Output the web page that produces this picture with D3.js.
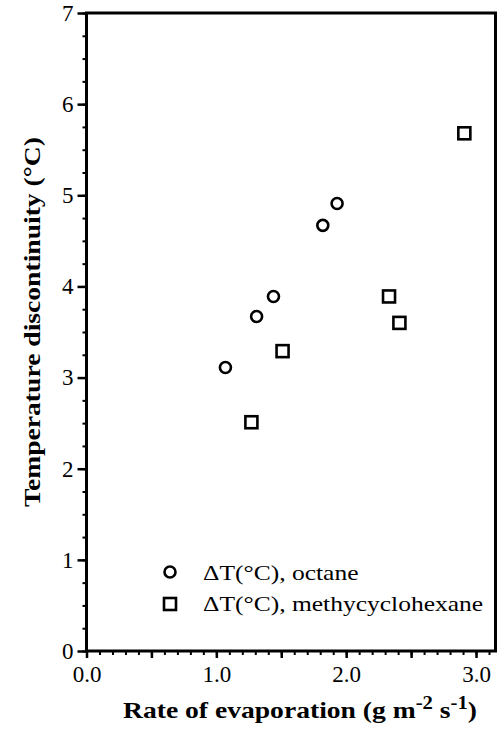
<!DOCTYPE html>
<html>
<head>
<meta charset="utf-8">
<script src="https://cdn.jsdelivr.net/npm/d3@7"></script>
<style>
  body { margin: 0; background: #fff; }
  svg { display: block; }
  svg text { font-family: "Liberation Serif", "Times New Roman", serif; fill: #000; }
</style>
</head>
<body>
<svg id="chart" width="503" height="734"></svg>
<script>
// data
const octaneRate = [1.07, 1.31, 1.44, 1.82, 1.93];
const octaneDT = [3.11, 3.67, 3.89, 4.67, 4.91];
const mchRate = [1.27, 1.51, 2.33, 2.41, 2.91];
const mchDT = [2.51, 3.29, 3.89, 3.60, 5.68];
const xTicks = [0, 1, 2, 3];
const yTicks = [0, 1, 2, 3, 4, 5, 6, 7];
const legendLabels = ['\u0394T(\u00B0C), octane', '\u0394T(\u00B0C), methycyclohexane'];

const svg = d3.select('#chart');

const x = d3.scaleLinear().domain([0, 3.15]).range([86.5, 495.5]);
const y = d3.scaleLinear().domain([0, 7]).range([651, 13]);

// minor / mid ticks first
svg.append('g')
  .attr('transform', `translate(0,${y(0)})`)
  .call(d3.axisBottom(x).tickValues(d3.range(0, 3.11, 0.1)).tickSize(4).tickFormat(''))
  .call(g => g.select('.domain').remove())
  .selectAll('line').attr('stroke-width', 2);

svg.append('g')
  .attr('transform', `translate(0,${y(0)})`)
  .call(d3.axisBottom(x).tickValues([0.5, 1.5, 2.5]).tickSize(7).tickFormat(''))
  .call(g => g.select('.domain').remove())
  .selectAll('line').attr('stroke-width', 2.5);

const xAxis = svg.append('g')
  .attr('transform', `translate(0,${y(0)})`)
  .call(d3.axisBottom(x).tickValues(xTicks).tickSize(7).tickPadding(8).tickFormat(d3.format('.1f')));
xAxis.attr('font-family', null).attr('font-size', 23);
xAxis.select('.domain').remove();
xAxis.selectAll('line').attr('stroke-width', 2.5);

svg.append('g')
  .attr('transform', `translate(${x(0)},0)`)
  .call(d3.axisLeft(y).tickValues(d3.range(0, 7.01, 0.25)).tickSize(4).tickFormat(''))
  .call(g => g.select('.domain').remove())
  .selectAll('line').attr('stroke-width', 2);

const yAxis = svg.append('g')
  .attr('transform', `translate(${x(0)},0)`)
  .call(d3.axisLeft(y).tickValues(yTicks).tickSize(9).tickPadding(4).tickFormat(d3.format('d')));
yAxis.attr('font-family', null).attr('font-size', 23);
yAxis.select('.domain').remove();
yAxis.selectAll('line').attr('stroke-width', 2.5);

// frame
svg.append('rect')
  .attr('x', x(0)).attr('y', y(7))
  .attr('width', x(3.15) - x(0)).attr('height', y(0) - y(7))
  .attr('fill', 'none').attr('stroke', '#000').attr('stroke-width', 3);

// points
const octane = octaneRate.map((r, i) => ({ r, t: octaneDT[i] }));
const mch = mchRate.map((r, i) => ({ r, t: mchDT[i] }));

svg.append('g').selectAll('circle').data(octane).join('circle')
  .attr('cx', d => x(d.r)).attr('cy', d => y(d.t)).attr('r', 5.5)
  .attr('fill', 'none').attr('stroke', '#000').attr('stroke-width', 2.6);

const sq = 12;
svg.append('g').selectAll('rect').data(mch).join('rect')
  .attr('x', d => x(d.r) - sq / 2).attr('y', d => y(d.t) - sq / 2)
  .attr('width', sq).attr('height', sq)
  .attr('fill', 'none').attr('stroke', '#000').attr('stroke-width', 2.6);

// legend
const legend = svg.append('g');
legend.append('circle').attr('cx', 170).attr('cy', 572).attr('r', 5.5)
  .attr('fill', 'none').attr('stroke', '#000').attr('stroke-width', 2.6);
legend.append('rect').attr('x', 170 - sq / 2).attr('y', 604 - sq / 2).attr('width', sq).attr('height', sq)
  .attr('fill', 'none').attr('stroke', '#000').attr('stroke-width', 2.6);
legend.selectAll('text').data(legendLabels).join('text')
  .attr('transform', (d, i) => `translate(203,${580 + i * 31}) scale(1.16,1)`)
  .attr('font-size', 22)
  .text(d => d);

// axis titles
const xt = svg.append('text')
  .attr('transform', 'translate(300,718) scale(1.15,1)')
  .attr('text-anchor', 'middle')
  .attr('font-size', 24).attr('font-weight', 'bold');
xt.append('tspan').text('Rate of evaporation (g m');
xt.append('tspan').attr('dy', -9).attr('font-size', 18).text('-2');
xt.append('tspan').attr('dy', 9).text(' s');
xt.append('tspan').attr('dy', -9).attr('font-size', 18).text('-1');
xt.append('tspan').attr('dy', 9).text(')');

svg.append('text')
  .attr('transform', 'translate(40,322) rotate(-90) scale(1.15,1)')
  .attr('text-anchor', 'middle')
  .attr('font-size', 24).attr('font-weight', 'bold')
  .text('Temperature discontinuity (\u00B0C)');
</script>
</body>
</html>
